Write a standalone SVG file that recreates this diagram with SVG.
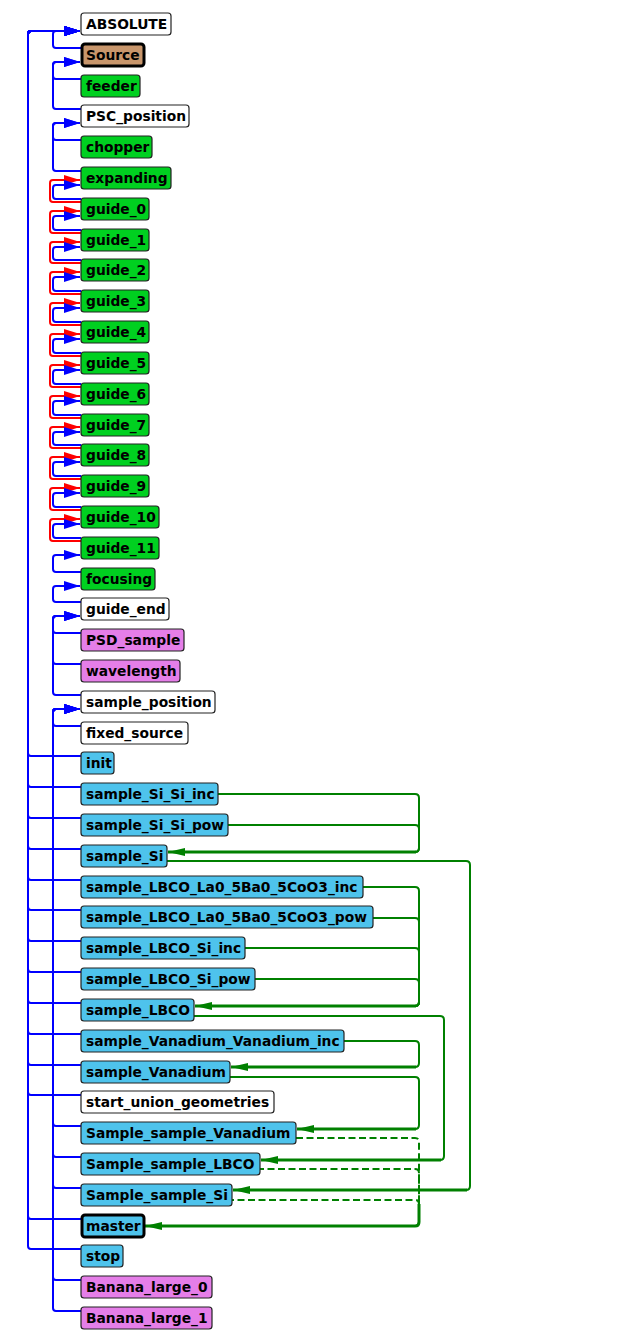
<svg xmlns="http://www.w3.org/2000/svg" width="639" height="1344" viewBox="0 0 639 1344">
<style>
.n rect{stroke:#222;stroke-width:1.2}
.n text{font-family:"DejaVu Sans","Liberation Sans",sans-serif;font-weight:bold;font-size:13.8px;fill:#000}
.w rect{fill:#ffffff}
.g rect{fill:#00d020}
.b rect{fill:#4ec3ec}
.v rect{fill:#e57ee8}
.t rect{fill:#c8966c}
.k rect{stroke:#000;stroke-width:3}
.bl{fill:none;stroke:#0000ff;stroke-width:2}
.rd{fill:none;stroke:#ff0000;stroke-width:2}
.gr{fill:none;stroke:#008000;stroke-width:2}
.gi{fill:none;stroke:#008000;stroke-width:3}
.gd{fill:none;stroke:#008000;stroke-width:2;stroke-dasharray:7,3.5}
</style>
<defs>
<marker id="ab" markerUnits="userSpaceOnUse" markerWidth="16" markerHeight="10" refX="16" refY="5" orient="auto"><path d="M0,0 L16,5 L0,10 z" fill="#0000ff"/></marker>
<marker id="ar" markerUnits="userSpaceOnUse" markerWidth="16" markerHeight="10" refX="16" refY="5" orient="auto"><path d="M0,0 L16,5 L0,10 z" fill="#ff0000"/></marker>
<marker id="ag" markerUnits="userSpaceOnUse" markerWidth="17" markerHeight="8" refX="17" refY="4" orient="auto"><path d="M0,0 L17,4 L0,8 z" fill="#008000"/></marker>
</defs>
<rect width="639" height="1344" fill="#ffffff"/>
<g id="connectors">
<g id="red">
<path class="rd" marker-end="url(#ar)" d="M81,202 H53 Q50,202 50,199 V183 Q50,180 53,180 H80"/>
<path class="rd" marker-end="url(#ar)" d="M81,233 H53 Q50,233 50,230 V214 Q50,211 53,211 H80"/>
<path class="rd" marker-end="url(#ar)" d="M81,263 H53 Q50,263 50,260 V245 Q50,242 53,242 H80"/>
<path class="rd" marker-end="url(#ar)" d="M81,294 H53 Q50,294 50,291 V275 Q50,272 53,272 H80"/>
<path class="rd" marker-end="url(#ar)" d="M81,325 H53 Q50,325 50,322 V306 Q50,303 53,303 H80"/>
<path class="rd" marker-end="url(#ar)" d="M81,356 H53 Q50,356 50,353 V337 Q50,334 53,334 H80"/>
<path class="rd" marker-end="url(#ar)" d="M81,387 H53 Q50,387 50,384 V368 Q50,365 53,365 H80"/>
<path class="rd" marker-end="url(#ar)" d="M81,418 H53 Q50,418 50,415 V399 Q50,396 53,396 H80"/>
<path class="rd" marker-end="url(#ar)" d="M81,448 H53 Q50,448 50,445 V430 Q50,427 53,427 H80"/>
<path class="rd" marker-end="url(#ar)" d="M81,479 H53 Q50,479 50,476 V460 Q50,457 53,457 H80"/>
<path class="rd" marker-end="url(#ar)" d="M81,510 H53 Q50,510 50,507 V491 Q50,488 53,488 H80"/>
<path class="rd" marker-end="url(#ar)" d="M81,541 H53 Q50,541 50,538 V522 Q50,519 53,519 H80"/>
</g>
<g id="blue">
<path class="bl" marker-end="url(#ab)" d="M81,48 H56 Q53,48 53,45 V34 Q53,31 56,31 H80"/>
<path class="bl" marker-end="url(#ab)" d="M81,79 H56 Q53,79 53,76 V65 Q53,62 56,62 H80"/>
<path class="bl" marker-end="url(#ab)" d="M81,109 H56 Q53,109 53,106 V65 Q53,62 56,62 H80"/>
<path class="bl" marker-end="url(#ab)" d="M81,140 H56 Q53,140 53,137 V126 Q53,123 56,123 H80"/>
<path class="bl" marker-end="url(#ab)" d="M81,171 H56 Q53,171 53,168 V126 Q53,123 56,123 H80"/>
<path class="bl" marker-end="url(#ab)" d="M81,199 H56 Q53,199 53,196 V188 Q53,185 56,185 H80"/>
<path class="bl" marker-end="url(#ab)" d="M81,230 H56 Q53,230 53,227 V219 Q53,216 56,216 H80"/>
<path class="bl" marker-end="url(#ab)" d="M81,260 H56 Q53,260 53,257 V250 Q53,247 56,247 H80"/>
<path class="bl" marker-end="url(#ab)" d="M81,291 H56 Q53,291 53,288 V280 Q53,277 56,277 H80"/>
<path class="bl" marker-end="url(#ab)" d="M81,322 H56 Q53,322 53,319 V311 Q53,308 56,308 H80"/>
<path class="bl" marker-end="url(#ab)" d="M81,353 H56 Q53,353 53,350 V342 Q53,339 56,339 H80"/>
<path class="bl" marker-end="url(#ab)" d="M81,384 H56 Q53,384 53,381 V373 Q53,370 56,370 H80"/>
<path class="bl" marker-end="url(#ab)" d="M81,415 H56 Q53,415 53,412 V404 Q53,401 56,401 H80"/>
<path class="bl" marker-end="url(#ab)" d="M81,445 H56 Q53,445 53,442 V435 Q53,432 56,432 H80"/>
<path class="bl" marker-end="url(#ab)" d="M81,476 H56 Q53,476 53,473 V465 Q53,462 56,462 H80"/>
<path class="bl" marker-end="url(#ab)" d="M81,507 H56 Q53,507 53,504 V496 Q53,493 56,493 H80"/>
<path class="bl" marker-end="url(#ab)" d="M81,538 H56 Q53,538 53,535 V527 Q53,524 56,524 H80"/>
<path class="bl" marker-end="url(#ab)" d="M81,572 H56 Q53,572 53,569 V558 Q53,555 56,555 H80"/>
<path class="bl" marker-end="url(#ab)" d="M81,602 H56 Q53,602 53,599 V589 Q53,586 56,586 H80"/>
<path class="bl" marker-end="url(#ab)" d="M81,633 H56 Q53,633 53,630 V619 Q53,616 56,616 H80"/>
<path class="bl" marker-end="url(#ab)" d="M81,664 H56 Q53,664 53,661 V619 Q53,616 56,616 H80"/>
<path class="bl" marker-end="url(#ab)" d="M81,695 H56 Q53,695 53,692 V619 Q53,616 56,616 H80"/>
<path class="bl" marker-end="url(#ab)" d="M81,726 H56 Q53,726 53,723 V712 Q53,709 56,709 H80"/>
<path class="bl" marker-end="url(#ab)" d="M81,1126 H56 Q53,1126 53,1123 V712 Q53,709 56,709 H80"/>
<path class="bl" marker-end="url(#ab)" d="M81,1157 H56 Q53,1157 53,1154 V712 Q53,709 56,709 H80"/>
<path class="bl" marker-end="url(#ab)" d="M81,1188 H56 Q53,1188 53,1185 V712 Q53,709 56,709 H80"/>
<path class="bl" marker-end="url(#ab)" d="M81,1280 H56 Q53,1280 53,1277 V712 Q53,709 56,709 H80"/>
<path class="bl" marker-end="url(#ab)" d="M81,1311 H56 Q53,1311 53,1308 V712 Q53,709 56,709 H80"/>
<path class="bl" marker-end="url(#ab)" d="M81,756 H31 Q28,756 28,753 V34 Q28,31 31,31 H80"/>
<path class="bl" marker-end="url(#ab)" d="M81,787 H31 Q28,787 28,784 V34 Q28,31 31,31 H80"/>
<path class="bl" marker-end="url(#ab)" d="M81,818 H31 Q28,818 28,815 V34 Q28,31 31,31 H80"/>
<path class="bl" marker-end="url(#ab)" d="M81,849 H31 Q28,849 28,846 V34 Q28,31 31,31 H80"/>
<path class="bl" marker-end="url(#ab)" d="M81,880 H31 Q28,880 28,877 V34 Q28,31 31,31 H80"/>
<path class="bl" marker-end="url(#ab)" d="M81,910 H31 Q28,910 28,907 V34 Q28,31 31,31 H80"/>
<path class="bl" marker-end="url(#ab)" d="M81,941 H31 Q28,941 28,938 V34 Q28,31 31,31 H80"/>
<path class="bl" marker-end="url(#ab)" d="M81,972 H31 Q28,972 28,969 V34 Q28,31 31,31 H80"/>
<path class="bl" marker-end="url(#ab)" d="M81,1003 H31 Q28,1003 28,1000 V34 Q28,31 31,31 H80"/>
<path class="bl" marker-end="url(#ab)" d="M81,1034 H31 Q28,1034 28,1031 V34 Q28,31 31,31 H80"/>
<path class="bl" marker-end="url(#ab)" d="M81,1065 H31 Q28,1065 28,1062 V34 Q28,31 31,31 H80"/>
<path class="bl" marker-end="url(#ab)" d="M81,1095 H31 Q28,1095 28,1092 V34 Q28,31 31,31 H80"/>
<path class="bl" marker-end="url(#ab)" d="M81,1219 H31 Q28,1219 28,1216 V34 Q28,31 31,31 H80"/>
<path class="bl" marker-end="url(#ab)" d="M81,1249 H31 Q28,1249 28,1246 V34 Q28,31 31,31 H80"/>
</g>
<g id="green">
<path class="gr" d="M218,794 H415 Q419,794 419,798 V848 Q419,852 415,852"/>
<path class="gr" d="M228,825 H415 Q419,825 419,829 V848 Q419,852 415,852"/>
<path class="gi" marker-end="url(#ag)" d="M416,852 H168"/>
<path class="gr" d="M363,887 H415 Q419,887 419,891 V1002 Q419,1006 415,1006"/>
<path class="gr" d="M373,918 H415 Q419,918 419,922 V1002 Q419,1006 415,1006"/>
<path class="gr" d="M245,948 H415 Q419,948 419,952 V1002 Q419,1006 415,1006"/>
<path class="gr" d="M255,979 H415 Q419,979 419,983 V1002 Q419,1006 415,1006"/>
<path class="gi" marker-end="url(#ag)" d="M416,1006 H195"/>
<path class="gr" d="M167,861 H466 Q470,861 470,865 V1186 Q470,1190 466,1190"/>
<path class="gi" marker-end="url(#ag)" d="M467,1190 H233"/>
<path class="gr" d="M194,1016 H440 Q444,1016 444,1020 V1156 Q444,1160 440,1160"/>
<path class="gi" marker-end="url(#ag)" d="M441,1160 H261"/>
<path class="gr" d="M344,1041 H415 Q419,1041 419,1045 V1063 Q419,1067 415,1067"/>
<path class="gi" marker-end="url(#ag)" d="M416,1067 H231"/>
<path class="gr" d="M230,1077 H415 Q419,1077 419,1081 V1125 Q419,1129 415,1129"/>
<path class="gi" marker-end="url(#ag)" d="M416,1129 H297"/>
<path class="gd" d="M296,1138 H415 Q419,1138 419,1142 V1222 Q419,1226 415,1226"/>
<path class="gd" stroke-dashoffset="3" d="M260,1169 H415 Q419,1169 419,1173 V1222 Q419,1226 415,1226"/>
<path class="gd" stroke-dashoffset="5" d="M232,1200 H415 Q419,1200 419,1204 V1222 Q419,1226 415,1226"/>
<path class="gi" marker-end="url(#ag)" d="M419,1204 V1222 Q419,1226 415,1226 H145"/>
</g>
</g>
<g id="n0" class="n w"><rect x="81" y="13" width="90" height="22" rx="3"/><text x="86" y="29">ABSOLUTE</text></g>
<g id="n1" class="n t k"><rect x="82" y="44" width="62" height="22" rx="3"/><text x="86" y="60">Source</text></g>
<g id="n2" class="n g"><rect x="81" y="75" width="59" height="22" rx="3"/><text x="86" y="91">feeder</text></g>
<g id="n3" class="n w"><rect x="81" y="105" width="108" height="22" rx="3"/><text x="86" y="121">PSC_position</text></g>
<g id="n4" class="n g"><rect x="81" y="136" width="71" height="22" rx="3"/><text x="86" y="152">chopper</text></g>
<g id="n5" class="n g"><rect x="81" y="167" width="90" height="22" rx="3"/><text x="86" y="183">expanding</text></g>
<g id="n6" class="n g"><rect x="81" y="198" width="68" height="22" rx="3"/><text x="86" y="214">guide_0</text></g>
<g id="n7" class="n g"><rect x="81" y="229" width="68" height="22" rx="3"/><text x="86" y="245">guide_1</text></g>
<g id="n8" class="n g"><rect x="81" y="259" width="68" height="22" rx="3"/><text x="86" y="275">guide_2</text></g>
<g id="n9" class="n g"><rect x="81" y="290" width="68" height="22" rx="3"/><text x="86" y="306">guide_3</text></g>
<g id="n10" class="n g"><rect x="81" y="321" width="68" height="22" rx="3"/><text x="86" y="337">guide_4</text></g>
<g id="n11" class="n g"><rect x="81" y="352" width="68" height="22" rx="3"/><text x="86" y="368">guide_5</text></g>
<g id="n12" class="n g"><rect x="81" y="383" width="68" height="22" rx="3"/><text x="86" y="399">guide_6</text></g>
<g id="n13" class="n g"><rect x="81" y="414" width="68" height="22" rx="3"/><text x="86" y="430">guide_7</text></g>
<g id="n14" class="n g"><rect x="81" y="444" width="68" height="22" rx="3"/><text x="86" y="460">guide_8</text></g>
<g id="n15" class="n g"><rect x="81" y="475" width="68" height="22" rx="3"/><text x="86" y="491">guide_9</text></g>
<g id="n16" class="n g"><rect x="81" y="506" width="78" height="22" rx="3"/><text x="86" y="522">guide_10</text></g>
<g id="n17" class="n g"><rect x="81" y="537" width="78" height="22" rx="3"/><text x="86" y="553">guide_11</text></g>
<g id="n18" class="n g"><rect x="81" y="568" width="74" height="22" rx="3"/><text x="86" y="584">focusing</text></g>
<g id="n19" class="n w"><rect x="81" y="598" width="88" height="22" rx="3"/><text x="86" y="614">guide_end</text></g>
<g id="n20" class="n v"><rect x="81" y="629" width="103" height="22" rx="3"/><text x="86" y="645">PSD_sample</text></g>
<g id="n21" class="n v"><rect x="81" y="660" width="99" height="22" rx="3"/><text x="86" y="676">wavelength</text></g>
<g id="n22" class="n w"><rect x="81" y="691" width="134" height="22" rx="3"/><text x="86" y="707">sample_position</text></g>
<g id="n23" class="n w"><rect x="81" y="722" width="107" height="22" rx="3"/><text x="86" y="738">fixed_source</text></g>
<g id="n24" class="n b"><rect x="81" y="752" width="33" height="22" rx="3"/><text x="86" y="768">init</text></g>
<g id="n25" class="n b"><rect x="81" y="783" width="137" height="22" rx="3"/><text x="86" y="799">sample_Si_Si_inc</text></g>
<g id="n26" class="n b"><rect x="81" y="814" width="147" height="22" rx="3"/><text x="86" y="830">sample_Si_Si_pow</text></g>
<g id="n27" class="n b"><rect x="81" y="845" width="86" height="22" rx="3"/><text x="86" y="861">sample_Si</text></g>
<g id="n28" class="n b"><rect x="81" y="876" width="282" height="22" rx="3"/><text x="86" y="892">sample_LBCO_La0_5Ba0_5CoO3_inc</text></g>
<g id="n29" class="n b"><rect x="81" y="906" width="292" height="22" rx="3"/><text x="86" y="922">sample_LBCO_La0_5Ba0_5CoO3_pow</text></g>
<g id="n30" class="n b"><rect x="81" y="937" width="164" height="22" rx="3"/><text x="86" y="953">sample_LBCO_Si_inc</text></g>
<g id="n31" class="n b"><rect x="81" y="968" width="174" height="22" rx="3"/><text x="86" y="984">sample_LBCO_Si_pow</text></g>
<g id="n32" class="n b"><rect x="81" y="999" width="113" height="22" rx="3"/><text x="86" y="1015">sample_LBCO</text></g>
<g id="n33" class="n b"><rect x="81" y="1030" width="263" height="22" rx="3"/><text x="86" y="1046">sample_Vanadium_Vanadium_inc</text></g>
<g id="n34" class="n b"><rect x="81" y="1061" width="149" height="22" rx="3"/><text x="86" y="1077">sample_Vanadium</text></g>
<g id="n35" class="n w"><rect x="81" y="1091" width="193" height="22" rx="3"/><text x="86" y="1107">start_union_geometries</text></g>
<g id="n36" class="n b"><rect x="81" y="1122" width="215" height="22" rx="3"/><text x="86" y="1138">Sample_sample_Vanadium</text></g>
<g id="n37" class="n b"><rect x="81" y="1153" width="179" height="22" rx="3"/><text x="86" y="1169">Sample_sample_LBCO</text></g>
<g id="n38" class="n b"><rect x="81" y="1184" width="151" height="22" rx="3"/><text x="86" y="1200">Sample_sample_Si</text></g>
<g id="n39" class="n b k"><rect x="82" y="1215" width="62" height="22" rx="3"/><text x="86" y="1231">master</text></g>
<g id="n40" class="n b"><rect x="81" y="1245" width="42" height="22" rx="3"/><text x="86" y="1261">stop</text></g>
<g id="n41" class="n v"><rect x="81" y="1276" width="131" height="22" rx="3"/><text x="86" y="1292">Banana_large_0</text></g>
<g id="n42" class="n v"><rect x="81" y="1307" width="131" height="22" rx="3"/><text x="86" y="1323">Banana_large_1</text></g>
</svg>
